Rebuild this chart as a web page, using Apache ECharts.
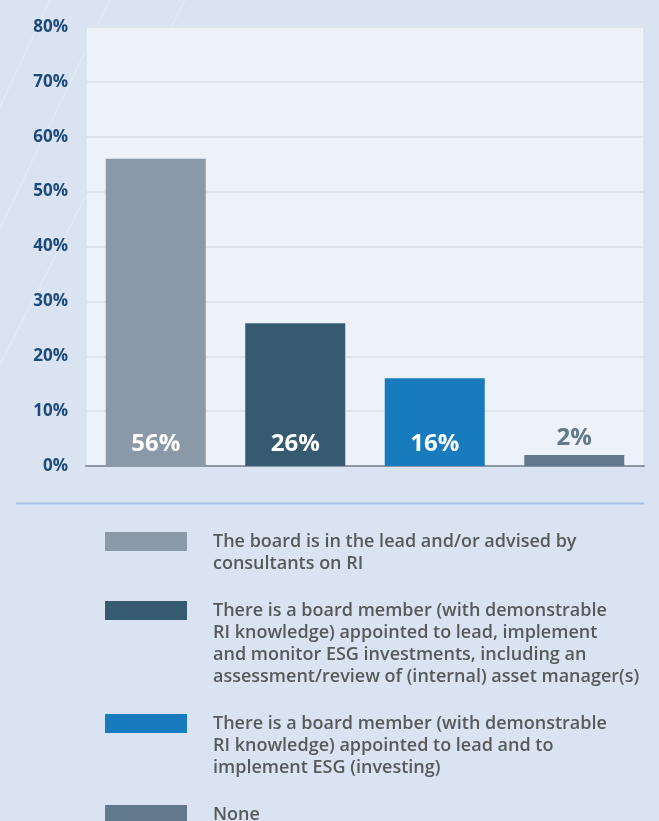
<!DOCTYPE html>
<html>
<head>
<meta charset="utf-8">
<script src="https://cdn.jsdelivr.net/npm/echarts@6/dist/echarts.min.js"></script>
<style>
  html, body { margin: 0; padding: 0; background: #d9e3f1; }
  #chart { width: 659px; height: 821px; }
</style>
</head>
<body>
<div id="chart"></div>
<script>
// Share of respondents per board arrangement for responsible investment (RI)
const categories = ['Board lead', 'Board member: lead, implement, monitor', 'Board member: lead, implement', 'None'];
const shares = [56, 26, 16, 2];
const legendLines = [
  ['The board is in the lead and/or advised by', 'consultants on RI'],
  ['There is a board member (with demonstrable', 'RI knowledge) appointed to lead, implement', 'and monitor ESG investments, including an', 'assessment/review of (internal) asset manager(s)'],
  ['There is a board member (with demonstrable', 'RI knowledge) appointed to lead and to', 'implement ESG (investing)'],
  ['None']
];
const yTicks = [0, 10, 20, 30, 40, 50, 60, 70, 80];

const barColors = ['#8b98a7', '#365a6f', '#177bbd', '#62788b'];
const FONT = '"Open Sans", "Liberation Sans", sans-serif';
const LINE_H = 22;
const SWATCH_H = 19;

const names = legendLines.map(l => l.join(' '));

const series = shares.map((v, i) => ({
  name: names[i],
  type: 'bar',
  barWidth: 100,
  barGap: '-100%',
  itemStyle: { color: barColors[i] },
  data: shares.map((_, j) => (j === i ? v : '-')),
  label: i < 3 ? {
    show: true, position: 'insideBottom', distance: 10,
    formatter: '{c}%', color: '#ffffff',
    fontFamily: FONT, fontWeight: 'bold', fontSize: 24
  } : {
    show: true, position: 'top', distance: 5,
    formatter: '{c}%', color: '#62788b',
    fontFamily: FONT, fontWeight: 'bold', fontSize: 24
  }
}));

// One legend block per entry; leading blank lines keep the swatch level with the first text line
const legends = [];
let swatchTop = 532;
legendLines.forEach((lines, i) => {
  const n = lines.length;
  const lift = Math.max(0, (2 * n - 1) * LINE_H / 2 - SWATCH_H / 2);
  const label = '\n'.repeat(n - 1) + lines.join('\n');
  legends.push({
    data: [names[i]],
    left: 105,
    top: swatchTop - lift,
    orient: 'vertical',
    padding: 0,
    itemWidth: 82,
    itemHeight: SWATCH_H,
    itemGap: 0,
    icon: 'rect',
    selectedMode: false,
    itemStyle: { borderWidth: 0 },
    formatter: () => label,
    textStyle: {
      fontFamily: FONT, fontSize: 18, fontWeight: 600, color: '#58595b',
      lineHeight: LINE_H, padding: [0, 0, 0, 21]
    }
  });
  swatchTop += n * LINE_H + 25;
});

// Faint diagonal strokes in the page background
const strokes = [[50, 0, 0, 107], [110, 0, 0, 228], [185, 0, 0, 365]].map(s => ({
  type: 'line', z: -10, silent: true,
  shape: { x1: s[0], y1: s[1], x2: s[2], y2: s[3] },
  style: { stroke: '#e6ecf6', lineWidth: 1 }
}));

const chart = echarts.init(document.getElementById('chart'), null, { renderer: 'canvas' });
chart.setOption({
  backgroundColor: '#d9e3f1',
  animation: false,
  grid: {
    left: 86, right: 15, top: 27, height: 439,
    show: true, backgroundColor: '#edf1f9', borderColor: '#d3dbe8', borderWidth: 1
  },
  xAxis: {
    type: 'category',
    data: categories,
    axisTick: { show: false },
    axisLabel: { show: false },
    axisLine: { lineStyle: { color: '#8d98a6', width: 2 } }
  },
  yAxis: {
    type: 'value',
    min: yTicks[0], max: yTicks[yTicks.length - 1], interval: yTicks[1] - yTicks[0],
    axisLine: { show: false },
    axisTick: { show: false },
    axisLabel: {
      formatter: '{value}%', margin: 18,
      color: '#1d4a7a', fontFamily: FONT, fontWeight: 'bold', fontSize: 17
    },
    splitLine: { lineStyle: { color: '#dfe4ec', width: 2 } }
  },
  legend: legends,
  series: series,
  graphic: strokes.concat([{
    type: 'line', silent: true,
    shape: { x1: 16, y1: 503.5, x2: 644, y2: 503.5 },
    style: { stroke: '#a9c3e7', lineWidth: 2 }
  }])
});
</script>
</body>
</html>
